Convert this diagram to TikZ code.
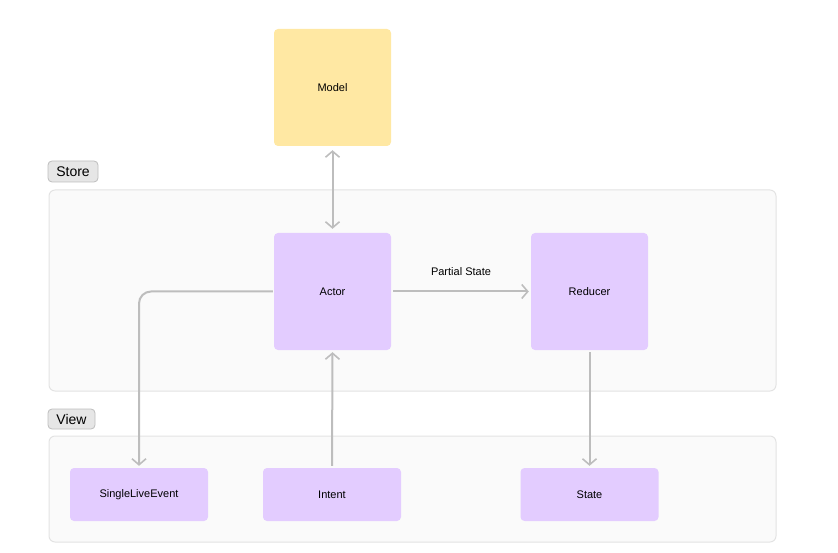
\documentclass[tikz,border=0pt]{standalone}
\usepackage{fontspec}
\setmainfont{Liberation Sans}
\usetikzlibrary{arrows.meta}

\definecolor{modelyellow}{HTML}{FFE8A3}
\definecolor{actorpurple}{HTML}{E3CCFF}
\definecolor{groupfill}{HTML}{FAFAFA}
\definecolor{groupline}{HTML}{E3E3E3}
\definecolor{tagfill}{HTML}{E6E6E6}
\definecolor{tagline}{HTML}{BDBDBD}
\definecolor{wire}{HTML}{BDBDBD}

\tikzset{barb/.tip={Straight Barb[length=6pt, width=14pt, line width=1.6pt]}}

\def \storebox {\draw[group] (49,190) rectangle (776,391);}
\def \viewbox {\draw[group] (49,436) rectangle (776,542);}

\begin{document}
\begin{tikzpicture}[x=1pt, y=-1pt,
  group/.style={fill=groupfill, draw=groupline, line width=1pt, rounded corners=6pt},
  tag/.style={fill=tagfill, draw=tagline, line width=0.8pt, rounded corners=4pt,
    inner sep=0pt, font=\fontsize{14}{16}\selectfont},
  bigbox/.style={rounded corners=4pt, minimum width=117pt, minimum height=117pt,
    inner sep=0pt, font=\fontsize{11}{13}\selectfont},
  flatbox/.style={fill=actorpurple, rounded corners=4pt, minimum width=138pt,
    minimum height=53pt, inner sep=0pt, font=\fontsize{11}{13}\selectfont},
  wired/.style={draw=wire, line width=2pt, -barb}]

\useasboundingbox (0,0) rectangle (838,553);

\storebox
\viewbox

\node[tag, minimum width=50pt, minimum height=21pt](storetag) at(73,171.5) {Store};
\node[tag, minimum width=47pt, minimum height=20pt](viewtag) at(71.5,419) {View};

\node[bigbox, fill=modelyellow](model) at(332.5,87.5) {Model};
\node[bigbox, fill=actorpurple](actor) at(332.5,291.5) {Actor};
\node[bigbox, fill=actorpurple](reducer) at(589.5,291.5) {Reducer};

\node[flatbox](event) at(139,494.5) {SingleLiveEvent};
\node[flatbox](intent) at(332,494.5) {Intent};
\node[flatbox](state) at(589.5,494.5) {State};

\begin{scope}[wired]
\draw[barb-barb] ([yshift=-4pt]model.south) -- ([yshift=4pt]actor.north);
\draw ([xshift=2pt]actor.east) -- node[above=12pt, font=\fontsize{11}{13}\selectfont, text=black]{Partial State} ([xshift=-2pt]reducer.west);
\draw[rounded corners=12pt] ([xshift=-1pt]actor.west) -| ([yshift=2pt]event.north);
\draw ([yshift=2pt]intent.north) -- ([yshift=-2pt]actor.south);
\draw ([yshift=-2pt]reducer.south) -- ([yshift=2pt]state.north);
\end{scope}

\end{tikzpicture}
\end{document}
